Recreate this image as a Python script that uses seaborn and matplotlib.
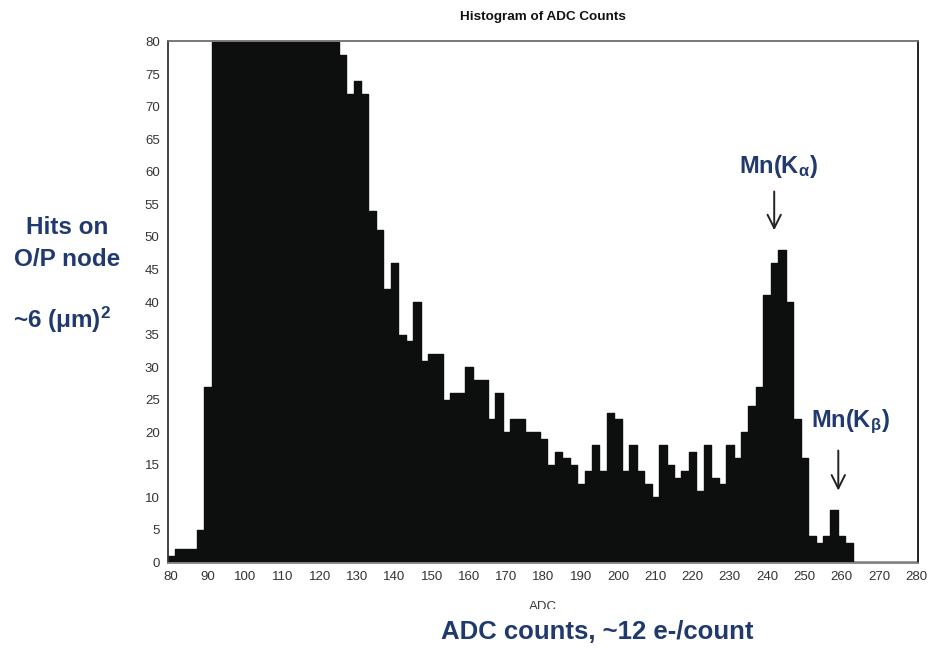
import numpy as np
import pandas as pd
import matplotlib
matplotlib.use("Agg")
import matplotlib.pyplot as plt
from matplotlib.patches import Rectangle
import seaborn as sns

# Histogram bins: centred on even ADC values, 2 counts wide
bin_centers = list(range(80, 282, 2))

# Hits per bin (bins from 92 to 124 run off the top of the 0-80 scale and are capped at 80)
hits = [
    1, 2, 2, 2, 5, 27,                                   # 80 - 90
    80, 80, 80, 80, 80, 80, 80, 80, 80, 80,              # 92 - 110
    80, 80, 80, 80, 80, 80, 80,                          # 112 - 124
    78, 72, 74, 72, 54, 51, 42, 46, 35, 34,              # 126 - 144
    40, 31, 32, 32, 25, 26, 26, 30, 28, 28,              # 146 - 164
    22, 26, 20, 22, 22, 20, 20, 19, 15, 17,              # 166 - 184
    16, 15, 12, 14, 18, 14, 23, 22, 14, 18,              # 186 - 204
    14, 12, 10, 18, 15, 13, 14, 17, 11, 18,              # 206 - 224
    13, 12, 18, 16, 20, 24, 27, 41, 46, 48,              # 226 - 244
    40, 22, 16, 4, 3, 4, 8, 4, 3,                        # 246 - 262
    0, 0, 0, 0, 0, 0, 0, 0, 0,                           # 264 - 280
]

x_ticks = list(range(80, 290, 10))
y_ticks = list(range(0, 85, 5))

title = "Histogram of ADC Counts"
x_label = "ADC"
navy = "#203a70"

sns.set_style("white")
plt.rcParams["font.family"] = ["Liberation Sans", "DejaVu Sans"]

fig = plt.figure(figsize=(9.29, 6.48), dpi=100)
ax = fig.add_axes([0.1808, 0.1312, 0.8074, 0.8055])

df = pd.DataFrame({"adc": bin_centers, "hits": hits})
edges = [float(e) for e in range(79, 283, 2)]
sns.histplot(data=df, x="adc", weights="hits", bins=edges, element="step",
             fill=True, color="#0d0f0f", alpha=1.0, linewidth=1.0, ax=ax)

ax.set_xlim(79.2, 280.5)
ax.set_ylim(-0.1, 80.1)
ax.set_xticks(x_ticks)
ax.set_yticks(y_ticks)
ax.set_ylabel("")
ax.set_xlabel(x_label, fontsize=9.5, color="#3a3a3a", labelpad=13)
ax.tick_params(axis="both", direction="out", length=4, width=1,
               colors="#555555", labelcolor="#333333", labelsize=9.5, pad=2)

for side, col in (("top", "#6e6e6e"), ("left", "#333333"),
                  ("right", "#111111"), ("bottom", "#8a8a8a")):
    ax.spines[side].set_visible(True)
    ax.spines[side].set_color(col)
    ax.spines[side].set_linewidth(1.3)

fig.text(0.5845, 1 - 17 / 648, title, ha="center", va="center",
         fontsize=9.7, fontweight="bold", color="#111111")

# Peak annotations
arrow_style = dict(arrowstyle="->", color="#222222", lw=1.4, mutation_scale=24)
ax.annotate("", xy=(241.9, 50.6), xytext=(241.9, 57.4), arrowprops=arrow_style)
ax.annotate("", xy=(259.1, 10.6), xytext=(259.1, 17.6), arrowprops=arrow_style)
fig.text(778 / 929, 1 - 167 / 648, r"Mn(K$\mathregular{_{α}}$)", ha="center",
         va="center", fontsize=17, fontweight="bold", color=navy)
fig.text(850 / 929, 1 - 422 / 648, r"Mn(K$\mathregular{_{β}}$)", ha="center",
         va="center", fontsize=17, fontweight="bold", color=navy)

# Side and bottom captions
fig.text(67 / 929, 1 - 228 / 648, "Hits on", ha="center", va="center",
         fontsize=17.5, fontweight="bold", color=navy)
fig.text(67 / 929, 1 - 260 / 648, "O/P node", ha="center", va="center",
         fontsize=17.5, fontweight="bold", color=navy)
fig.text(62 / 929, 1 - 320 / 648, r"~6 (μm)$\mathregular{^{2}}$", ha="center",
         va="center", fontsize=17.5, fontweight="bold", color=navy)

fig.patches.append(Rectangle((0.3, 0), 0.6, (648 - 609) / 648,
                             transform=fig.transFigure, facecolor="white",
                             edgecolor="none", zorder=5))
fig.text(597 / 929, 1 - 632 / 648, "ADC counts, ~12 e-/count", ha="center",
         va="center", fontsize=18.5, fontweight="bold", color=navy, zorder=6)

fig.savefig("out.png", dpi=100)
